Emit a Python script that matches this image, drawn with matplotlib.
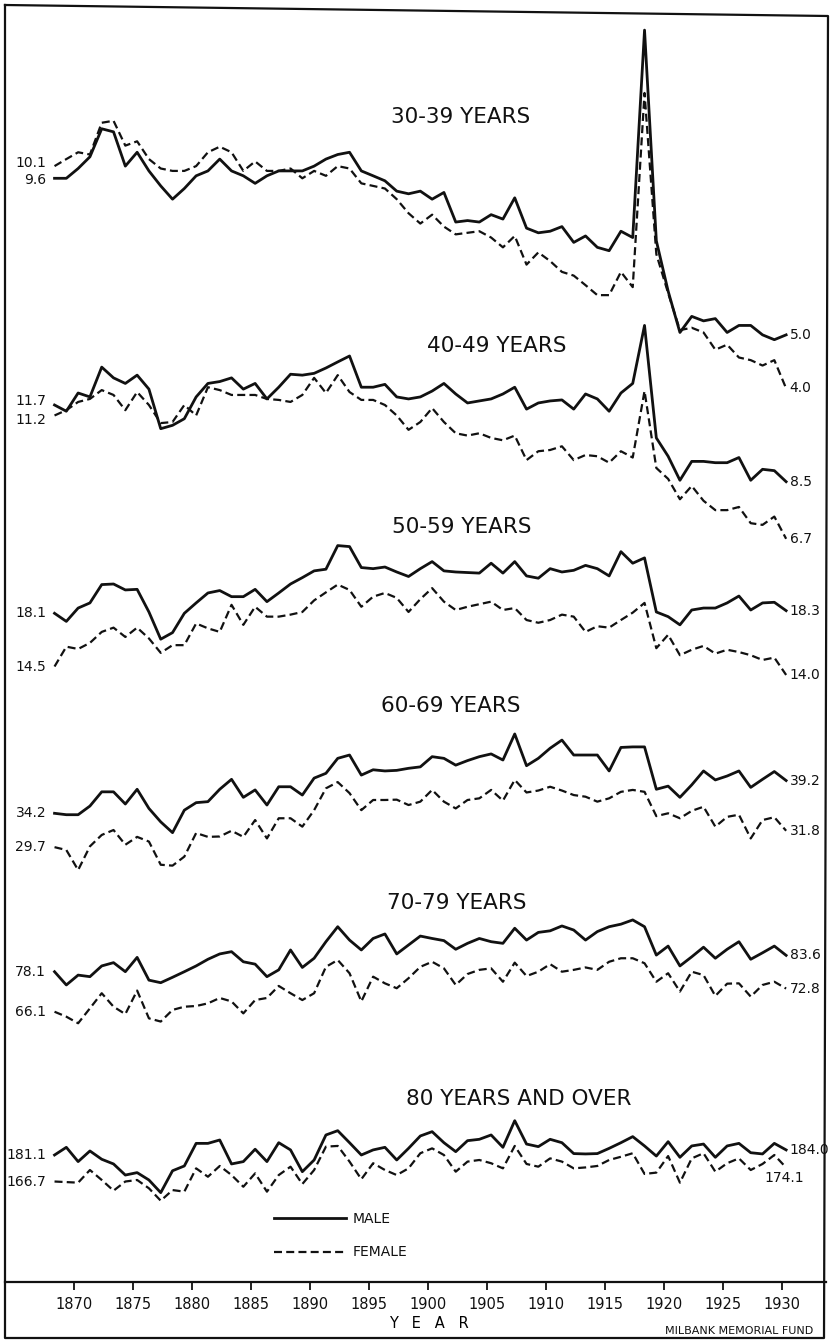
import numpy as np
import matplotlib
matplotlib.use("Agg")
import matplotlib.pyplot as plt
from matplotlib.lines import Line2D

plt.rcParams.update({
    'font.family': 'DejaVu Sans',
    'font.size': 10,
    'text.color': '#111111',
    'axes.edgecolor': '#111111',
    'xtick.color': '#111111',
})

W, H = 832, 1340
INK = '#111111'

# ----------------------------
# Data: death rates per 1,000
# ----------------------------
YEARS = np.arange(1868, 1931)
TICK_YEARS = list(range(1870, 1931, 5))
AGE_GROUPS = ["30-39 YEARS", "40-49 YEARS", "50-59 YEARS",
              "60-69 YEARS", "70-79 YEARS", "80 YEARS AND OVER"]

MALE_30_39 = [9.6, 9.6, 10.0, 10.5, 11.8, 11.65, 10.1, 10.7, 9.9, 9.3,
              8.8, 9.2, 9.7, 9.9, 10.4, 9.9, 9.7, 9.4, 9.7, 9.9,
              9.9, 9.9, 10.1, 10.4, 10.6, 10.7, 9.9, 9.7, 9.5, 9.1,
              9.0, 9.1, 8.8, 9.05, 8.0, 8.05, 8.0, 8.25, 8.1, 8.85,
              7.8, 7.65, 7.7, 7.85, 7.35, 7.55, 7.2, 7.1, 7.7, 7.5,
              17.8, 7.4, 6.0, 5.05, 5.4, 5.3, 5.35, 5.05, 5.2, 5.2,
              5.0, 4.9, 5.0]
FEMALE_30_39 = [10.1, 10.4, 10.7, 10.6, 12.1, 12.2, 11.0, 11.2, 10.4, 10.0,
                9.9, 9.9, 10.1, 10.7, 10.95, 10.7, 9.9, 10.3, 9.9, 9.9,
                10.0, 9.6, 9.9, 9.7, 10.1, 10.0, 9.4, 9.3, 9.2, 8.8,
                8.3, 7.95, 8.25, 7.85, 7.6, 7.65, 7.7, 7.5, 7.2, 7.55,
                6.7, 7.05, 6.8, 6.5, 6.4, 6.15, 5.9, 5.9, 6.5, 6.1,
                13.7, 7.0, 5.95, 5.1, 5.15, 5.05, 4.7, 4.8, 4.55, 4.5,
                4.4, 4.5, 4.0]

MALE_40_49 = [11.7, 11.4, 12.3, 12.1, 13.7, 13.1, 12.8, 13.25, 12.5, 10.6,
              10.75, 11.05, 12.1, 12.8, 12.9, 13.1, 12.5, 12.8, 12.0, 12.6,
              13.3, 13.25, 13.35, 13.65, 14.0, 14.35, 12.6, 12.6, 12.75, 12.1,
              12.0, 12.1, 12.4, 12.8, 12.25, 11.8, 11.9, 12.0, 12.25, 12.6,
              11.5, 11.8, 11.9, 11.95, 11.5, 12.25, 12.0, 11.4, 12.3, 12.8,
              16.3, 10.2, 9.45, 8.55, 9.25, 9.25, 9.2, 9.2, 9.4, 8.55,
              8.95, 8.9, 8.5]
FEMALE_40_49 = [11.2, 11.45, 11.85, 12.0, 12.45, 12.2, 11.45, 12.35, 11.7, 10.85,
                10.9, 11.7, 11.2, 12.6, 12.45, 12.2, 12.2, 12.2, 12.0, 11.95,
                11.85, 12.2, 13.1, 12.3, 13.25, 12.35, 11.95, 11.95, 11.7, 11.2,
                10.55, 10.9, 11.55, 10.9, 10.4, 10.3, 10.4, 10.2, 10.1, 10.3,
                9.3, 9.65, 9.7, 9.85, 9.3, 9.5, 9.45, 9.2, 9.65, 9.4,
                12.4, 9.0, 8.6, 7.9, 8.35, 7.85, 7.55, 7.55, 7.65, 7.15,
                7.1, 7.35, 6.7]

MALE_50_59 = [18.1, 17.5, 18.5, 18.9, 20.4, 20.45, 19.95, 20.0, 18.2, 16.25,
              16.7, 18.1, 18.9, 19.7, 19.9, 19.4, 19.4, 20.0, 19.0, 19.7,
              20.45, 21.0, 21.6, 21.75, 24.0, 23.9, 21.9, 21.8, 21.95, 21.5,
              21.1, 21.8, 22.45, 21.6, 21.5, 21.45, 21.4, 22.3, 21.4, 22.45,
              21.15, 20.95, 21.8, 21.5, 21.65, 22.1, 21.8, 21.15, 23.4, 22.3,
              22.8, 18.2, 17.85, 17.25, 18.35, 18.5, 18.5, 18.9, 19.45, 18.35,
              18.9, 18.95, 18.3]
FEMALE_50_59 = [14.5, 15.75, 15.6, 16.0, 16.75, 17.05, 16.4, 17.05, 16.3, 15.35,
                15.85, 15.85, 17.35, 17.0, 16.75, 18.75, 17.25, 18.6, 17.85, 17.85,
                18.0, 18.2, 19.1, 19.75, 20.4, 19.95, 18.6, 19.4, 19.7, 19.3,
                18.2, 19.2, 20.1, 19.0, 18.35, 18.6, 18.8, 19.0, 18.35, 18.5,
                17.6, 17.4, 17.6, 18.0, 17.85, 16.75, 17.15, 17.05, 17.6, 18.15,
                18.9, 15.65, 16.55, 15.2, 15.55, 15.8, 15.3, 15.55, 15.4, 15.2,
                14.9, 15.05, 14.0]

MALE_60_69 = [34.2, 34.0, 34.0, 35.25, 37.4, 37.4, 35.55, 37.8, 34.9, 33.0,
              31.55, 34.65, 35.75, 35.9, 37.8, 39.4, 36.55, 37.7, 35.4, 38.2,
              38.2, 36.9, 39.6, 40.4, 43.0, 43.6, 40.1, 41.0, 40.8, 40.9,
              41.25, 41.5, 43.3, 43.0, 41.8, 42.6, 43.3, 43.8, 42.7, 47.6,
              41.7, 43.0, 44.85, 46.4, 43.6, 43.6, 43.6, 40.8, 45.0, 45.1,
              45.1, 37.8, 38.3, 36.55, 38.5, 40.8, 39.3, 39.95, 40.8, 38.1,
              39.4, 40.7, 39.2]
FEMALE_60_69 = [29.7, 29.35, 27.0, 29.8, 31.25, 31.9, 30.0, 31.0, 30.4, 27.6,
                27.5, 28.55, 31.5, 31.0, 31.05, 31.8, 31.0, 33.25, 30.8, 33.5,
                33.5, 32.35, 34.65, 37.95, 38.95, 37.2, 34.65, 36.15, 36.15, 36.2,
                35.4, 35.9, 37.7, 35.9, 34.9, 36.15, 36.4, 37.7, 36.05, 39.3,
                37.3, 37.6, 38.2, 37.6, 36.9, 36.65, 35.9, 36.4, 37.4, 37.7,
                37.4, 33.8, 34.2, 33.5, 34.55, 35.15, 32.35, 33.7, 34.0, 30.8,
                33.25, 33.65, 31.8]

MALE_70_79 = [78.1, 73.9, 77.0, 76.5, 80.0, 81.1, 78.1, 82.9, 75.4, 74.6,
              76.3, 78.1, 80.0, 82.25, 84.1, 84.9, 81.4, 80.6, 76.5, 78.7,
              85.5, 79.5, 82.6, 88.5, 94.2, 89.1, 85.5, 89.7, 91.4, 84.1,
              87.3, 90.6, 89.7, 88.9, 85.75, 87.9, 89.7, 88.5, 87.9, 93.6,
              89.1, 92.0, 92.6, 94.5, 92.9, 89.1, 92.3, 94.2, 95.2, 96.9,
              94.2, 83.7, 86.9, 80.0, 83.1, 86.5, 82.6, 85.75, 88.5, 82.25,
              84.5, 86.9, 83.6]
FEMALE_70_79 = [66.1, 64.75, 63.0, 67.05, 71.4, 67.5, 65.45, 72.2, 64.3, 63.45,
                66.6, 67.5, 67.7, 68.45, 70.0, 69.0, 65.65, 69.4, 70.0, 73.6,
                71.4, 69.4, 71.4, 79.7, 82.0, 77.6, 69.0, 76.5, 74.4, 72.9,
                76.0, 79.7, 81.4, 79.2, 73.9, 77.35, 78.7, 79.2, 74.9, 81.1,
                76.7, 78.1, 80.6, 78.1, 78.7, 79.5, 78.7, 81.4, 82.6, 82.6,
                80.9, 74.9, 77.6, 71.9, 78.1, 77.0, 70.6, 74.3, 74.4, 70.4,
                73.9, 74.9, 72.8]

MALE_80_UP = [181.1, 185.5, 177.4, 183.4, 178.7, 176.1, 170.1, 171.4, 167.5, 161.0,
              172.4, 175.0, 187.8, 187.8, 189.8, 176.1, 177.4, 184.4, 177.4, 188.2,
              184.0, 171.9, 178.3, 192.8, 195.4, 188.2, 181.1, 184.0, 185.5, 178.3,
              184.9, 192.2, 194.8, 188.2, 183.0, 189.4, 190.2, 192.8, 185.5, 201.6,
              187.4, 185.9, 190.2, 188.2, 181.9, 181.7, 181.9, 184.9, 188.2, 191.8,
              186.3, 180.5, 188.8, 179.8, 186.3, 187.4, 179.8, 186.3, 187.8, 182.4,
              181.7, 187.8, 184.0]
FEMALE_80_UP = [166.7, 166.4, 166.1, 172.8, 167.5, 162.0, 166.7, 167.5, 163.2, 157.0,
                162.3, 161.5, 173.7, 169.2, 175.0, 170.1, 164.0, 171.0, 161.5, 170.1,
                174.6, 165.4, 172.8, 185.9, 186.3, 177.4, 167.9, 176.5, 172.8, 170.1,
                173.7, 182.1, 184.9, 181.1, 171.9, 177.4, 178.3, 176.5, 173.7, 186.3,
                176.1, 174.6, 179.2, 177.4, 173.7, 174.2, 175.0, 178.3, 180.1, 182.1,
                170.7, 171.4, 180.5, 166.1, 179.2, 182.1, 171.9, 176.5, 179.2, 172.8,
                176.1, 181.1, 174.1]

MALE = [MALE_30_39, MALE_40_49, MALE_50_59, MALE_60_69, MALE_70_79, MALE_80_UP]
FEMALE = [FEMALE_30_39, FEMALE_40_49, FEMALE_50_59, FEMALE_60_69, FEMALE_70_79, FEMALE_80_UP]

# ----------------------------
# Layout (pixels on the 832x1340 sheet)
# ----------------------------
PLOT_LEFT, PLOT_RIGHT, PLOT_TOP, PLOT_BOTTOM = 5, 826, 10, 1282
TICK_1870_PX, PX_PER_YEAR, YEAR_SHIFT = 74, 11.8, 0.35
PANEL_ROW = [178.3, 405, 613.3, 813.3, 971.7, 1155]     # row of the first male point
PANEL_PX_PER_LN = [240, 240, 240, 240, 240, 320]         # ratio scale of each panel
TITLE_XY = [(461, 117), (497, 346), (462, 527), (451, 706), (457, 903), (519, 1099)]
VALUE_FS = 10
# vertical nudge (points) of the opening labels (male, female) where they crowd
START_NUDGE = {0: (-1.3, 1.9), 1: (3.0, -3.3)}

MALE_STYLE = dict(color=INK, lw=2.0, solid_joinstyle='round')
FEMALE_STYLE = dict(color=INK, lw=1.6, linestyle=(0, (3.6, 1.9)))


def fig_xy(px, py):
    return px / W, 1 - py / H


fig = plt.figure(figsize=(W / 100, H / 100), dpi=100, facecolor='white')
rect = [PLOT_LEFT / W, 1 - PLOT_BOTTOM / H,
        (PLOT_RIGHT - PLOT_LEFT) / W, (PLOT_BOTTOM - PLOT_TOP) / H]

# base axes: the year scale along the bottom strip
base = fig.add_axes(rect, label='base')
base.patch.set_visible(False)
base.set_xlim(1870 - (TICK_1870_PX - PLOT_LEFT) / PX_PER_YEAR,
              1870 + (PLOT_RIGHT - TICK_1870_PX) / PX_PER_YEAR)
base.set_xticks(TICK_YEARS)
base.set_xticklabels([str(y) for y in TICK_YEARS])
base.set_yticks([])
for s in ['left', 'top', 'right']:
    base.spines[s].set_visible(False)
base.spines['bottom'].set_linewidth(1.6)
base.tick_params(axis='x', direction='out', length=6, width=1.3, pad=4.5, labelsize=10.5)
base.set_xlabel('Y   E   A   R', fontsize=10.5)
base.xaxis.set_label_coords((429 - PLOT_LEFT) / (PLOT_RIGHT - PLOT_LEFT),
                            -(1316 - PLOT_BOTTOM) / (PLOT_BOTTOM - PLOT_TOP))

xs = YEARS + YEAR_SHIFT

# one transparent log axis per age group, stacked on the same frame
for i, group in enumerate(AGE_GROUPS):
    male, female = MALE[i], FEMALE[i]
    k, row = PANEL_PX_PER_LN[i], PANEL_ROW[i]
    pax = fig.add_axes(rect, label=f'panel{i}', sharex=base)
    pax.set_axis_off()
    pax.set_yscale('log')
    pax.set_ylim(male[0] * np.exp(-(PLOT_BOTTOM - row) / k),
                 male[0] * np.exp((row - PLOT_TOP) / k))
    pax.plot(xs, male, **MALE_STYLE)
    pax.plot(xs, female, **FEMALE_STYLE)

    nudges = START_NUDGE.get(i, (0, 0))
    for series, dy in zip((male, female), nudges):
        pax.annotate(f"{series[0]:.1f}", xy=(xs[0], series[0]), xytext=(-6, dy),
                     textcoords='offset points', ha='right', va='center', fontsize=VALUE_FS)
    pax.annotate(f"{male[-1]:.1f}", xy=(xs[-1], male[-1]), xytext=(2.5, 0),
                 textcoords='offset points', ha='left', va='center', fontsize=VALUE_FS)
    if i == len(AGE_GROUPS) - 1:
        # last female value is lettered under the line end
        pax.annotate(f"{female[-1]:.1f}", xy=(xs[-1], female[-1]), xytext=(-1, -7.5),
                     textcoords='offset points', ha='center', va='center', fontsize=VALUE_FS)
    else:
        pax.annotate(f"{female[-1]:.1f}", xy=(xs[-1], female[-1]), xytext=(2.5, 0),
                     textcoords='offset points', ha='left', va='center', fontsize=VALUE_FS)

    fig.text(*fig_xy(*TITLE_XY[i]), group, ha='center', va='center', fontsize=15.5)

# key
handles = [Line2D([], [], **MALE_STYLE), Line2D([], [], **FEMALE_STYLE)]
fig.legend(handles, ['MALE', 'FEMALE'], loc='upper left',
           bbox_to_anchor=fig_xy(274, 1212), frameon=False, fontsize=10,
           handlelength=5.2, handletextpad=0.45, labelspacing=1.4,
           borderpad=0, borderaxespad=0)

fig.text(*fig_xy(813, 1331), 'MILBANK MEMORIAL FUND', ha='right', va='center', fontsize=8)

# outer frame of the sheet (slightly skewed, as drawn)
frame = fig.add_axes([0, 0, 1, 1], label='frame', zorder=10)
frame.set_axis_off()
frame.patch.set_visible(False)
frame.set_xlim(0, W)
frame.set_ylim(H, 0)
frame.plot([5, 828, 824, 5, 5], [5, 16, 1338, 1338, 5], color=INK, lw=1.6)

fig.savefig('out.png', dpi=100, facecolor='white')
